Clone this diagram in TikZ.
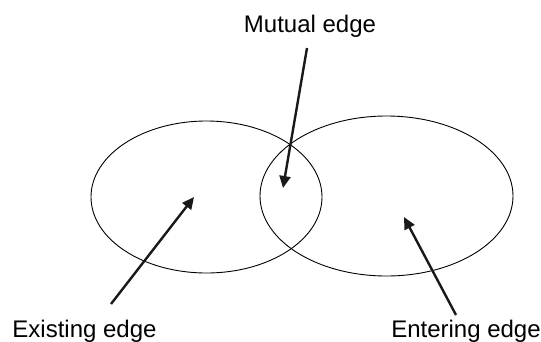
\documentclass[tikz,border=0pt]{standalone}
\usepackage{fontspec}
\setmainfont{Liberation Sans}
\usetikzlibrary{arrows.meta,shapes.geometric}

\begin{document}
\begin{tikzpicture}[
  x=1pt, y=-1pt,
  font=\fontsize{24}{28}\selectfont,
  label/.style={anchor=base, inner sep=0pt},
  set/.style={draw, ellipse, line width=0.9pt, inner sep=0pt},
  arr/.style={-{Triangle[length=12pt,width=11pt]}, line width=2.4pt, black!90}
]
\useasboundingbox (0,0) rectangle (541,341);

% the two edge sets
\node[set, minimum width=231pt, minimum height=152pt] (old) at (206.5,197) {};
\node[set, minimum width=253pt, minimum height=160pt] (new) at (386.5,196) {};

% labels
\node[label] (mutual) at (310,32) {Mutual edge};
\node[label] (existing) at (84.5,337) {Existing edge};
\node[label] (entering) at (466,337) {Entering edge};

% arrow ends
\coordinate (mutualfrom) at (307,48);
\coordinate (mutualto) at (283,188);
\coordinate (existingfrom) at (111,304);
\coordinate (existingto) at (194,197);
\coordinate (enteringfrom) at (456,315);
\coordinate (enteringto) at (404,217);

\draw[arr] (mutualfrom) -- (mutualto);
\draw[arr] (existingfrom) -- (existingto);
\draw[arr] (enteringfrom) -- (enteringto);
\end{tikzpicture}
\end{document}
